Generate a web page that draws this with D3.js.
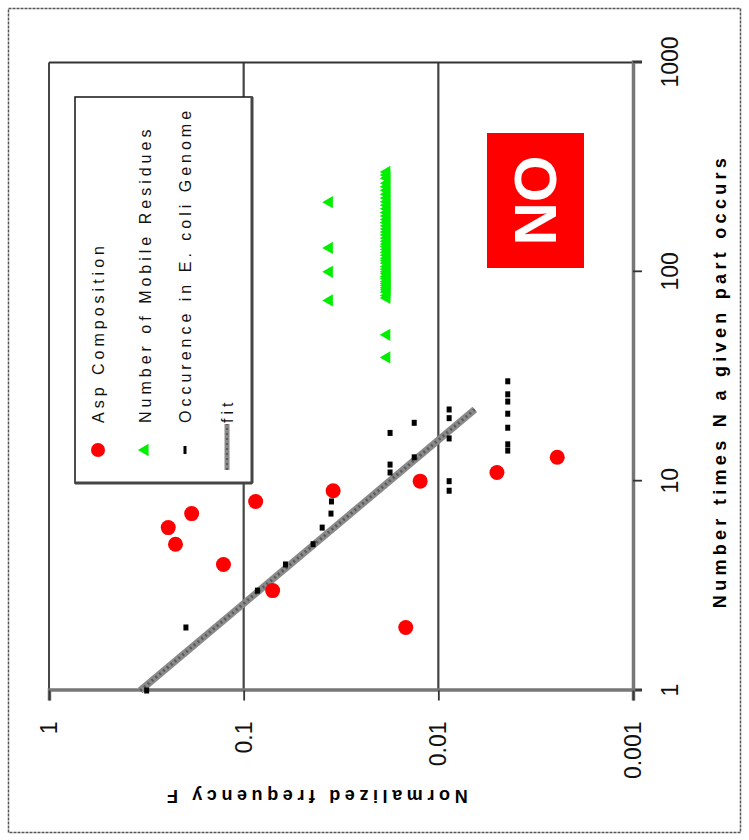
<!DOCTYPE html>
<html>
<head>
<meta charset="utf-8">
<script src="https://cdn.jsdelivr.net/npm/d3@7"></script>
<style>
  body { margin: 0; background: #fff; }
  svg { display: block; }
  text { font-family: "Liberation Sans", Arial, sans-serif; }
</style>
</head>
<body>
<svg id="chart" width="749" height="840"></svg>
<script>
// ---- data -------------------------------------------------------------
// Asp composition
const aspN = [2, 3, 4, 5, 6, 7, 8, 9, 10, 11, 13];
const aspF = [0.0147, 0.071, 0.127, 0.224, 0.244, 0.185, 0.0868, 0.0347, 0.0124, 0.005, 0.00245];

// Number of mobile residues
const mobileN = [73, 100, 130, 215,
  39, 50,
  75, 77, 80, 82, 84, 86, 88, 90, 93, 95, 98, 100, 103, 106, 110, 113, 116, 120,
  124, 128, 132, 136, 140, 145, 150, 155, 160, 166, 172, 178, 185, 192, 200, 208,
  216, 225, 235, 245, 255, 265, 280, 290, 300];
const mobileF = [0.0363, 0.0363, 0.0363, 0.0363,
  0.0184, 0.0184,
  0.0184, 0.0184, 0.0184, 0.0184, 0.0184, 0.0184, 0.0184, 0.0184, 0.0184, 0.0184,
  0.0184, 0.0184, 0.0184, 0.0184, 0.0184, 0.0184, 0.0184, 0.0184, 0.0184, 0.0184,
  0.0184, 0.0184, 0.0184, 0.0184, 0.0184, 0.0184, 0.0184, 0.0184, 0.0184, 0.0184,
  0.0184, 0.0184, 0.0184, 0.0184, 0.0184, 0.0184, 0.0184, 0.0184, 0.0184, 0.0184,
  0.0184, 0.0184, 0.0184];

// Occurrence in the E. coli genome
const ecoliN = [1, 2, 3, 4, 5, 6, 7, 8, 11, 12, 17, 13, 19, 9, 10, 16, 20, 22, 14, 15, 18, 21, 24, 26, 30];
const ecoliF = [0.315, 0.198, 0.085, 0.061, 0.044, 0.0395, 0.0356, 0.0354, 0.0177, 0.0177, 0.0177,
  0.0133, 0.0133, 0.0088, 0.0088, 0.0088, 0.0088, 0.0088,
  0.0044, 0.0044, 0.0044, 0.0044, 0.0044, 0.0044, 0.0044];

// power-law fit, end points
const fitN = [1, 22];
const fitF = [0.34, 0.0065];

// axis ticks
const nTicks = [1, 10, 100, 1000];
const fTicks = [1, 0.1, 0.01, 0.001];
const gridF = [0.1, 0.01];

const legendItems = ["Asp Composition", "Number of Mobile Residues", "Occurence in E. coli Genome", "fit"];

// ---- layout -----------------------------------------------------------
const W = 749, H = 840;
const svg = d3.select("#chart");

// outer frame
svg.append("rect")
  .attr("x", 8.5).attr("y", 8.5).attr("width", 732).attr("height", 824)
  .attr("fill", "none").attr("stroke", "#555").attr("stroke-width", 1.5)
  .attr("stroke-dasharray", "3,1");

// the chart is laid out sideways: local x runs up the page, local y runs right
const g = svg.append("g").attr("transform", `translate(0,${H}) rotate(-90)`);

const x = d3.scaleLog().domain([1, 1000]).range([149.5, 777.5]);
const y = d3.scaleLog().domain([1, 0.001]).range([49, 633]);

// gridlines
g.selectAll("line.grid").data(gridF).join("line")
  .attr("class", "grid")
  .attr("x1", x(1)).attr("x2", x(1000))
  .attr("y1", d => y(d)).attr("y2", d => y(d))
  .attr("stroke", "#444").attr("stroke-width", 2.2);

// plot frame (top and right sides of the plot)
g.append("line").attr("x1", x(1)).attr("x2", x(1000)).attr("y1", y(1)).attr("y2", y(1))
  .attr("stroke", "#333").attr("stroke-width", 1.8);
g.append("line").attr("x1", x(1000)).attr("x2", x(1000)).attr("y1", y(1)).attr("y2", y(0.001))
  .attr("stroke", "#333").attr("stroke-width", 1.8);

// axes
const xAxis = d3.axisBottom(x).tickValues(nTicks).tickFormat(d3.format("~g"))
  .tickSize(9).tickPadding(20);
const gx = g.append("g").attr("transform", `translate(0,${y(0.001)})`).call(xAxis);

const yAxis = d3.axisLeft(y).tickValues(fTicks).tickFormat(d3.format("~g"))
  .tickSize(10).tickPadding(21);
const gy = g.append("g").attr("transform", `translate(${x(1)},0)`).call(yAxis);

[gx, gy].forEach(a => {
  a.select(".domain").attr("stroke", "#777").attr("stroke-width", 3.5);
  a.selectAll(".tick line").attr("stroke", "#333").attr("stroke-width", 1.8);
  a.selectAll(".tick text").attr("font-size", 23).attr("fill", "#111")
    .style("font-family", "'Liberation Sans', Arial, sans-serif");
});

// axis titles
g.append("text")
  .attr("x", 459).attr("y", 726)
  .attr("text-anchor", "middle")
  .attr("font-size", 18).attr("font-weight", "bold")
  .attr("letter-spacing", 4.3)
  .text("Number times N a given part occurs");

g.append("text")
  .attr("transform", "translate(50,315) rotate(-90)")
  .attr("text-anchor", "middle")
  .attr("font-size", 18).attr("font-weight", "bold")
  .attr("letter-spacing", 4.6)
  .text("Normalized frequency F");

// fit line
const fitPts = fitN.map((n, i) => [x(n), y(fitF[i])]);
g.append("path").attr("d", d3.line()(fitPts))
  .attr("stroke", "#8a8a8a").attr("stroke-width", 7).attr("fill", "none");
g.append("path").attr("d", d3.line()(fitPts))
  .attr("stroke", "#5a5a5a").attr("stroke-width", 3).attr("fill", "none")
  .attr("stroke-dasharray", "2,3");

// Asp composition
g.selectAll("circle.asp").data(aspN.map((n, i) => ({ n, f: aspF[i] }))).join("circle")
  .attr("class", "asp")
  .attr("cx", d => x(d.n)).attr("cy", d => y(d.f)).attr("r", 7.5)
  .attr("fill", "#ff0000");

// mobile residues
const tri = d3.symbol(d3.symbolTriangle, 65);
g.selectAll("path.mob").data(mobileN.map((n, i) => ({ n, f: mobileF[i] }))).join("path")
  .attr("class", "mob")
  .attr("d", tri)
  .attr("transform", d => `translate(${x(d.n)},${y(d.f)})`)
  .attr("fill", "#00ee00");

// E. coli occurrences
g.selectAll("rect.eco").data(ecoliN.map((n, i) => ({ n, f: ecoliF[i] }))).join("rect")
  .attr("class", "eco")
  .attr("x", d => x(d.n) - 3).attr("y", d => y(d.f) - 2.5)
  .attr("width", 6).attr("height", 5)
  .attr("fill", "#000");

// NO label
g.append("rect").attr("x", 572).attr("y", 487).attr("width", 135).attr("height", 97)
  .attr("fill", "#ff0000");
g.append("text").attr("x", 639.5).attr("y", 535.5)
  .attr("text-anchor", "middle").attr("dominant-baseline", "central")
  .attr("font-size", 60).attr("font-weight", "bold").attr("fill", "#fff")
  .text("NO");

// legend
const lg = g.append("g");
lg.append("rect").attr("x", 357).attr("y", 75).attr("width", 386).attr("height", 177)
  .attr("fill", "#fff").attr("stroke", "#222").attr("stroke-width", 1.6);
lg.append("line").attr("x1", 357).attr("x2", 743).attr("y1", 252).attr("y2", 252)
  .attr("stroke", "#444").attr("stroke-width", 3);
lg.append("line").attr("x1", 357).attr("x2", 357).attr("y1", 75).attr("y2", 252)
  .attr("stroke", "#444").attr("stroke-width", 3);

const rowsV = [98, 145, 185, 227];
const markU = 390, textU = 417;
lg.append("circle").attr("cx", markU).attr("cy", rowsV[0]).attr("r", 7).attr("fill", "#ff0000");
lg.append("path").attr("d", tri).attr("transform", `translate(${markU},${rowsV[1]})`).attr("fill", "#00ee00");
lg.append("rect").attr("x", markU - 4).attr("y", rowsV[2] - 1.5).attr("width", 8).attr("height", 3).attr("fill", "#000");
lg.append("line").attr("x1", 370).attr("x2", 416).attr("y1", rowsV[3]).attr("y2", rowsV[3])
  .attr("stroke", "#8a8a8a").attr("stroke-width", 5);
lg.append("line").attr("x1", 370).attr("x2", 416).attr("y1", rowsV[3]).attr("y2", rowsV[3])
  .attr("stroke", "#5a5a5a").attr("stroke-width", 2).attr("stroke-dasharray", "2,3");

lg.selectAll("text.leg").data(legendItems).join("text")
  .attr("class", "leg")
  .attr("x", textU).attr("y", (d, i) => rowsV[i])
  .attr("dy", "0.36em")
  .attr("font-size", 16).attr("letter-spacing", 4)
  .attr("fill", "#111")
  .text(d => d);
</script>
</body>
</html>
